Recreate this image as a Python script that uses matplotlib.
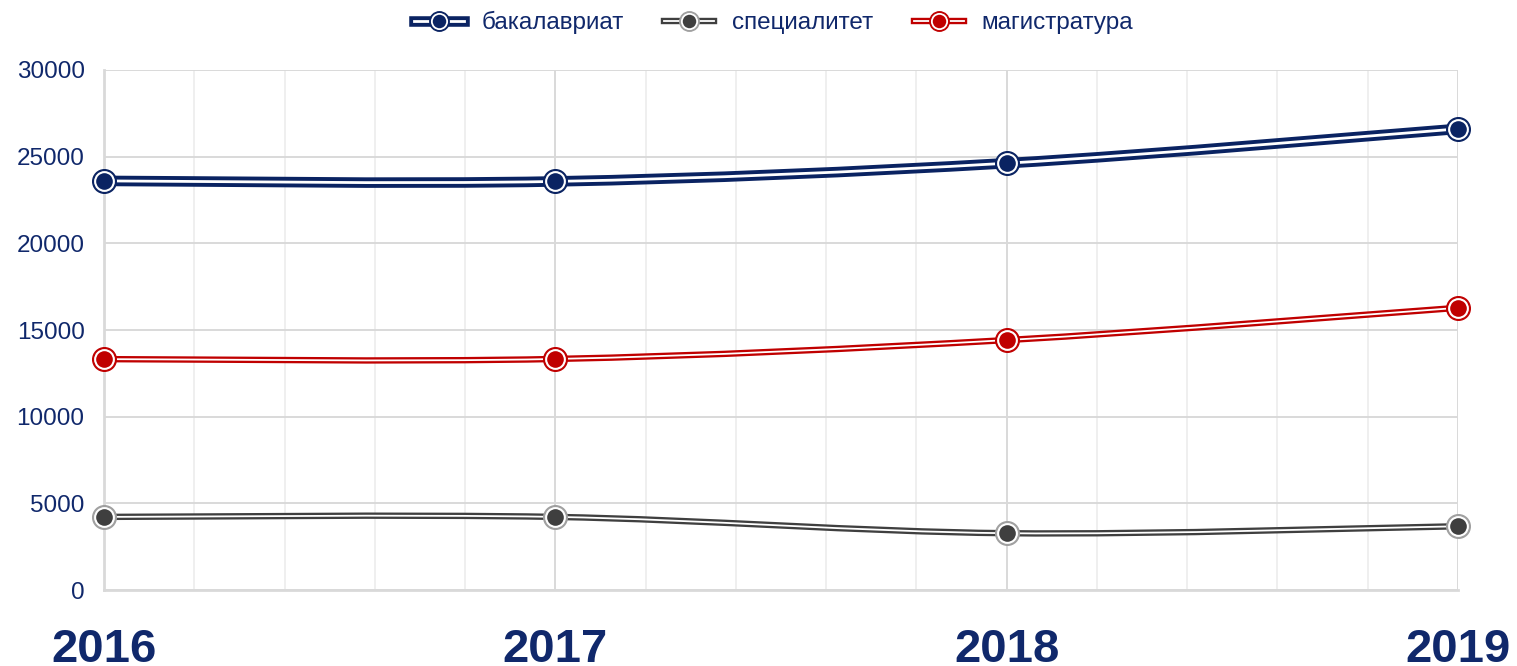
import matplotlib
matplotlib.use('Agg')
import matplotlib.pyplot as plt
from matplotlib.path import Path
from matplotlib.patches import PathPatch
from matplotlib.lines import Line2D
from matplotlib.legend_handler import HandlerTuple

plt.rcParams['font.family'] = ['Liberation Sans', 'DejaVu Sans']

years = [2016, 2017, 2018, 2019]
bachelor = [23600, 23570, 24620, 26600]
specialist = [4220, 4220, 3280, 3680]
master = [13320, 13330, 14420, 16280]

series_names = ['бакалавриат', 'специалитет', 'магистратура']

TEXT = '#10286b'
NAVY = '#0a2362'
GRAY = '#3f3f3f'
RED = '#c00000'


def smooth_path(xs, ys):
    # excel-like smoothing: catmull-rom as cubic bezier segments
    pts = list(zip(xs, ys))
    n = len(pts)
    verts = [pts[0]]
    codes = [Path.MOVETO]
    for i in range(n - 1):
        p0 = pts[max(i - 1, 0)]
        p1 = pts[i]
        p2 = pts[i + 1]
        p3 = pts[min(i + 2, n - 1)]
        c1 = (p1[0] + (p2[0] - p0[0]) / 6, p1[1] + (p2[1] - p0[1]) / 6)
        c2 = (p2[0] - (p3[0] - p1[0]) / 6, p2[1] - (p3[1] - p1[1]) / 6)
        verts += [c1, c2, p2]
        codes += [Path.CURVE4] * 3
    return Path(verts, codes)


def draw_series(ax, ys, color, ring, lw_out, lw_in, z):
    path = smooth_path(years, ys)
    ax.add_patch(PathPatch(path, fill=False, edgecolor=color, lw=lw_out,
                           capstyle='butt', joinstyle='round', zorder=z))
    ax.add_patch(PathPatch(path, fill=False, edgecolor='white', lw=lw_in,
                           capstyle='butt', joinstyle='round', zorder=z + 0.1))
    ax.plot(years, ys, 'o', ms=17, mfc=ring, mec=ring, zorder=z + 0.2, clip_on=False)
    ax.plot(years, ys, 'o', ms=13.5, mfc=color, mec='white', mew=1.5,
            zorder=z + 0.3, clip_on=False)
    h = (Line2D([], [], color=color, lw=lw_out),
         Line2D([], [], color='white', lw=lw_in),
         Line2D([], [], ls='none', marker='o', ms=14, mfc=ring, mec=ring),
         Line2D([], [], ls='none', marker='o', ms=11, mfc=color, mec='white', mew=1.3))
    return h


fig = plt.figure(figsize=(15.17, 6.66), dpi=100)
ax = fig.add_axes([0.0686, 0.114, 0.8925, 0.781])

h1 = draw_series(ax, bachelor, NAVY, NAVY, 7.6, 2.0, 5)
h2 = draw_series(ax, specialist, GRAY, '#a0a0a0', 4.6, 1.3, 4)
h3 = draw_series(ax, master, RED, RED, 4.6, 1.3, 4)

ax.set_xlim(2016, 2019)
ax.set_ylim(0, 30000)
ax.set_xticks(years)
ax.set_xticks([2016 + i * 0.2 for i in range(16)], minor=True)
ax.set_yticks(range(0, 30001, 5000))
ax.set_xticklabels([str(y) for y in years], fontsize=34, fontweight='bold', color=TEXT)
ax.set_yticklabels([str(v) for v in range(0, 30001, 5000)], fontsize=17.5, color=TEXT)
ax.tick_params(axis='x', which='both', length=0, pad=27)
ax.tick_params(axis='y', length=0, pad=14)

ax.grid(which='major', color='#d9d9d9', lw=1.4)
ax.grid(which='minor', axis='x', color='#ececec', lw=1.2)
ax.set_axisbelow(True)
for s in ['top', 'right']:
    ax.spines[s].set_visible(False)
for s in ['left', 'bottom']:
    ax.spines[s].set_color('#d9d9d9')
    ax.spines[s].set_linewidth(2)

leg = fig.legend([h1, h2, h3], series_names, loc='upper center',
                 bbox_to_anchor=(0.51, 1.016), ncol=3, frameon=False,
                 fontsize=17.5, handlelength=2.05, columnspacing=1.65,
                 handletextpad=0.75,
                 handler_map={tuple: HandlerTuple(ndivide=1, pad=0)})
for t in leg.get_texts():
    t.set_color(TEXT)

fig.savefig('out.png', dpi=100)
